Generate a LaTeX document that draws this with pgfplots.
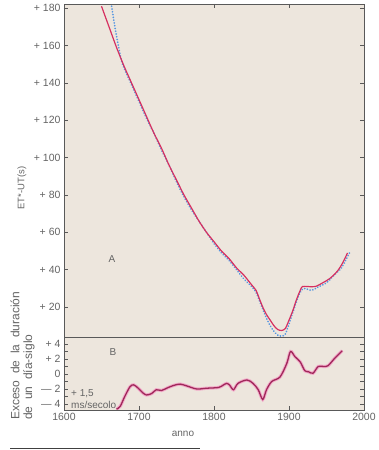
\documentclass[border=0pt]{standalone}
\usepackage{pgfplots}
\pgfplotsset{compat=1.18}
\usepackage{fontspec}
\setmainfont{Liberation Sans}
\definecolor{bg}{RGB}{237,230,221}
\definecolor{txt}{RGB}{100,100,100}
\definecolor{redc}{RGB}{214,48,96}
\definecolor{bluec}{RGB}{85,150,225}
\definecolor{maroonc}{RGB}{160,40,90}
\definecolor{pinkh}{RGB}{242,168,200}
\begin{document}
\begin{tikzpicture}
\path[use as bounding box] (0pt,0pt) rectangle (378pt,450pt);
\pgfplotsset{every axis/.append style={
  scale only axis, width=300pt, xmin=1600, xmax=2000,
  axis background/.style={fill=bg},
  axis line style={draw=black!65, line width=0.6pt},
  every tick/.style={draw=black!65, line width=0.6pt},
  major tick length=4pt, minor tick length=4pt,
  tick align=inside,
  ticklabel style={font=\fontsize{10.5}{12}\selectfont, text=txt},
  /pgf/number format/assume math mode=true,
  /pgf/number format/1000 sep={},
}}
\begin{axis}[at={(64pt,113pt)}, anchor=south west, height=333pt,
  ymin=4, ymax=182.2,
  xtick={1700,1800,1900}, xticklabels={}, xtick pos=right,
  ytick={20,40,...,180},
  yticklabels={+ 20,+ 40,+ 60,+ 80,+ 100,+ 120,+ 140,+ 160,+ 180},
  ytick pos=both, yticklabel pos=left]
\addplot[bluec, line width=1.9pt, dash pattern=on 0.01pt off 2.8pt, line cap=round, smooth] coordinates {
(1663.5,181) (1667,172) (1671,163) (1676,153) (1680,148) (1690,139) (1700,130)
(1710,121) (1720,113) (1730,104) (1740,96) (1750,87) (1760,79) (1770,72)
(1780,66) (1790,60) (1800,54) (1810,49) (1820,45) (1830,40) (1840,35)
(1850,31) (1856,28) (1860,24) (1865,19) (1870,14) (1875,10) (1880,7)
(1885,5) (1890,4.5) (1895,5.5) (1900,11) (1905,17) (1910,23) (1915,28)
(1920,30) (1930,29) (1940,31) (1950,33) (1960,37) (1970,41) (1978,47) (1982,50)};
\addplot[redc, line width=1.2pt, smooth] coordinates {
(1650,181) (1660,170) (1670,159) (1680,149) (1690,140) (1700,131) (1710,122)
(1720,113) (1730,105) (1740,96) (1750,88) (1760,80) (1770,73) (1780,66)
(1790,60) (1800,55) (1810,50) (1820,46) (1830,41) (1840,37) (1850,32)
(1856,29) (1860,25) (1865,20) (1870,16) (1875,13) (1880,10) (1885,8)
(1890,7.5) (1895,8.5) (1900,13) (1905,18) (1910,24) (1915,29) (1918,31)
(1925,31) (1935,31) (1945,33) (1955,35.5) (1965,39.5) (1972,44) (1978,49)};
\end{axis}
\begin{axis}[at={(64pt,40pt)}, anchor=south west, height=73pt,
  ymin=-4.8, ymax=4.93,
  xtick={1600,1700,1800,1900,2000}, xtick pos=left,
  ytick={-4,-2,0,2,4}, yticklabels={— 4,— 2,0,+ 2,+ 4},
  minor ytick={-3,-1,1,3},
  ytick pos=both, yticklabel pos=left]
\addplot[pinkh, line width=3.2pt, smooth] coordinates {
(1670,-4.7) (1675,-4.3) (1681,-3.0) (1688,-1.7) (1693,-1.45) (1699,-1.9)
(1705,-2.5) (1710,-2.8) (1717,-2.6) (1723,-2.1) (1730,-2.2) (1739,-1.8)
(1747,-1.5) (1755,-1.35) (1764,-1.6) (1777,-2.0) (1790,-1.9) (1806,-1.8)
(1812,-1.5) (1817,-1.25) (1821,-1.5) (1826,-2.1) (1832,-1.25) (1844,-0.8)
(1852,-1.25) (1859,-2.1) (1865,-3.4) (1870,-2.1) (1877,-1.0) (1888,-0.4)
(1897,1.4) (1902,3.0) (1908,2.3) (1915,1.6) (1921,0.45) (1926,0.3)
(1932,0.1) (1939,1.0) (1946,1.0) (1952,1.1) (1961,2.1) (1971,3.1)};
\addplot[maroonc, line width=1.3pt, smooth] coordinates {
(1670,-4.7) (1675,-4.3) (1681,-3.0) (1688,-1.7) (1693,-1.45) (1699,-1.9)
(1705,-2.5) (1710,-2.8) (1717,-2.6) (1723,-2.1) (1730,-2.2) (1739,-1.8)
(1747,-1.5) (1755,-1.35) (1764,-1.6) (1777,-2.0) (1790,-1.9) (1806,-1.8)
(1812,-1.5) (1817,-1.25) (1821,-1.5) (1826,-2.1) (1832,-1.25) (1844,-0.8)
(1852,-1.25) (1859,-2.1) (1865,-3.4) (1870,-2.1) (1877,-1.0) (1888,-0.4)
(1897,1.4) (1902,3.0) (1908,2.3) (1915,1.6) (1921,0.45) (1926,0.3)
(1932,0.1) (1939,1.0) (1946,1.0) (1952,1.1) (1961,2.1) (1971,3.1)};
\end{axis}
\begin{scope}[every node/.style={text=txt, inner sep=0pt}]
\node[font=\fontsize{10}{12}\selectfont] at (112pt,191pt) {A};
\node[font=\fontsize{10}{12}\selectfont] at (113pt,98pt) {B};
\node[font=\fontsize{10}{12}\selectfont, anchor=west] at (71pt,56pt) {+ 1,5};
\node[font=\fontsize{10}{12}\selectfont, anchor=west] at (71pt,45pt) {ms/secolo};
\node[font=\fontsize{10}{12}\selectfont] at (183pt,16pt) {anno};
\node[font=\fontsize{9.5}{12}\selectfont, rotate=90] at (22pt,262pt) {ET*-UT(s)};
\node[font=\fontsize{12}{14}\selectfont, rotate=90, anchor=west] at (15pt,30pt) {Exceso\ \ de\ \ la\ \ duración};
\node[font=\fontsize{12}{14}\selectfont, rotate=90, anchor=west] at (29pt,30pt) {de\ \ un\ \ día-siglo};
\end{scope}
\draw[black!75, line width=0.8pt] (10pt,2pt) -- (200pt,2pt);
\end{tikzpicture}
\end{document}
